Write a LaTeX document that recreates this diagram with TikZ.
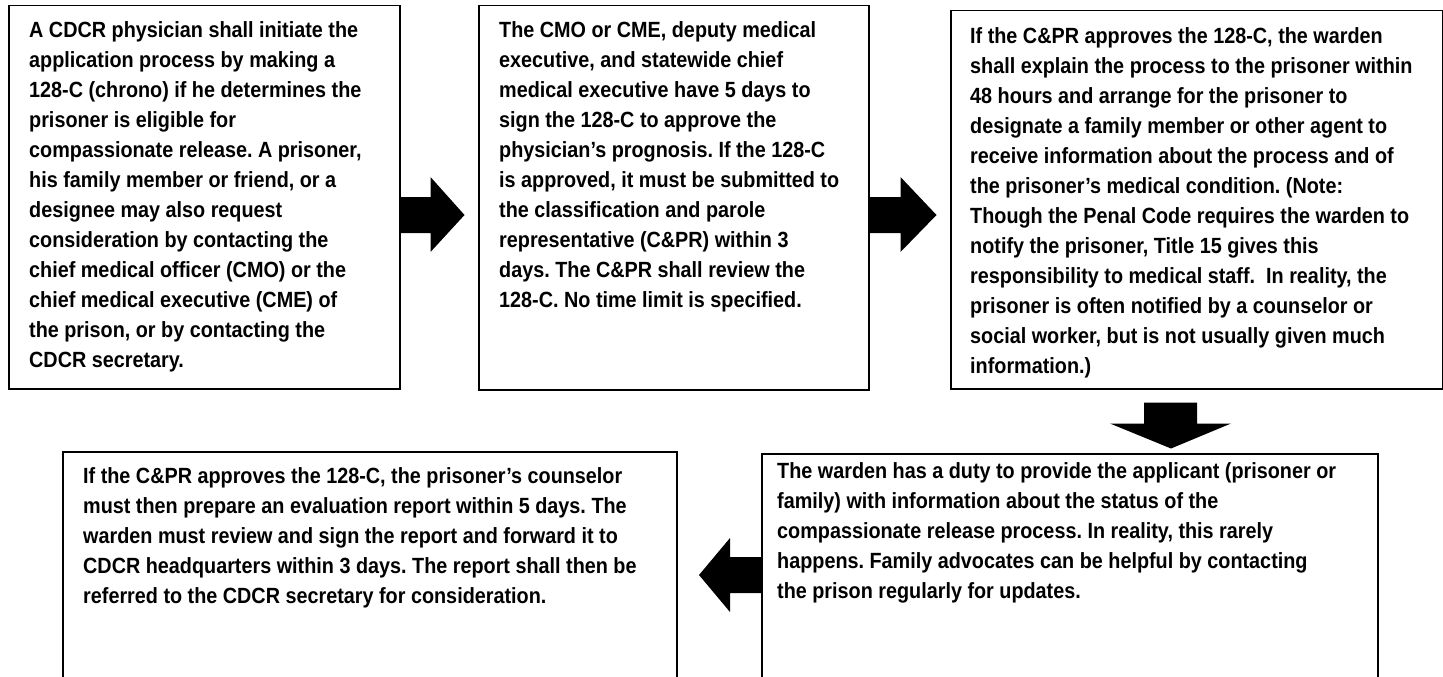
\documentclass[tikz,border=0pt]{standalone}
\usepackage{fontspec}
\setmainfont{Liberation Sans}[FakeStretch=0.9]
\usetikzlibrary{positioning}
\usetikzlibrary{calc}
\frenchspacing

\begin{document}
\begin{tikzpicture}[x=1pt,y=-1pt,
		box/.style={draw,line width=1.5pt,anchor=north west,inner sep=0pt},
		flowtext/.style={anchor=north west,align=left,inner sep=0pt,
			font=\fontsize{22}{30}\selectfont\bfseries},
		blockarrow/.style={fill=black}]
		\useasboundingbox[fill=white] (0,0) rectangle (1443,677);
		
		% the five steps
		\node[box, minimum width=391pt, minimum height=383pt] (Physician) at (8,5) {};
		\node[box, minimum width=390pt, minimum height=384pt] (Chief)     at (478,5) {};
		\node[box, minimum width=492pt, minimum height=378pt] (Warden)    at (950,10) {};
		\node[box, minimum width=614pt, minimum height=260pt] (Counselor) at (62,451) {};
		\node[box, minimum width=616pt, minimum height=260pt] (Status)    at (761,453) {};
		
		\node[flowtext] (PhysicianText) at ($(Physician.north west)+(21,16)$)
		{A CDCR physician shall initiate the\\
			application process by making a\\
			128-C (chrono) if he determines the\\
			prisoner is eligible for\\
			compassionate release. A prisoner,\\
			his family member or friend, or a\\
			designee may also request\\
			consideration by contacting the\\
			chief medical officer (CMO) or the\\
			chief medical executive (CME) of\\
			the prison, or by contacting the\\
			CDCR secretary.};
		\node[flowtext] (ChiefText) at ($(Chief.north west)+(21,16)$)
		{The CMO or CME, deputy medical\\
			executive, and statewide chief\\
			medical executive have 5 days to\\
			sign the 128-C to approve the\\
			physician’s prognosis. If the 128-C\\
			is approved, it must be submitted to\\
			the classification and parole\\
			representative (C\&PR) within 3\\
			days. The C\&PR shall review the\\
			128-C. No time limit is specified.};
		\node[flowtext] (WardenText) at ($(Warden.north west)+(20,17)$)
		{If the C\&PR approves the 128-C, the warden\\
			shall explain the process to the prisoner within\\
			48 hours and arrange for the prisoner to\\
			designate a family member or other agent to\\
			receive information about the process and of\\
			the prisoner’s medical condition. (Note:\\
			Though the Penal Code requires the warden to\\
			notify the prisoner, Title 15 gives this\\
			responsibility to medical staff.\ \ In reality, the\\
			prisoner is often notified by a counselor or\\
			social worker, but is not usually given much\\
			information.)};
		\node[flowtext] (CounselorText) at ($(Counselor.north west)+(21,16)$)
		{If the C\&PR approves the 128-C, the prisoner’s counselor\\
			must then prepare an evaluation report within 5 days. The\\
			warden must review and sign the report and forward it to\\
			CDCR headquarters within 3 days. The report shall then be\\
			referred to the CDCR secretary for consideration.};
		\node[flowtext] (StatusText) at ($(Status.north west)+(16,9)$)
		{The warden has a duty to provide the applicant (prisoner or\\
			family) with information about the status of the\\
			compassionate release process. In reality, this rarely\\
			happens. Family advocates can be helpful by contacting\\
			the prison regularly for updates.};
		
		% block arrows between the steps
		\coordinate (TopRow) at (0,215);
		\coordinate (BottomRow) at (0,575);
		\coordinate (DownCol) at (1171,0);
		
		\fill[blockarrow] (Physician.east |- TopRow) ++(0,-18) -- ++(30,0) -- ++(0,-20)
		-- ++(34,38) -- ++(-34,37) -- ++(0,-19) -- ++(-30,0) -- cycle;
		\fill[blockarrow] (Chief.east |- TopRow) ++(0,-18) -- ++(31,0) -- ++(0,-20)
		-- ++(36,38) -- ++(-36,37) -- ++(0,-19) -- ++(-31,0) -- cycle;
		\fill[blockarrow] (DownCol |- Warden.south) ++(-27,13) -- ++(53,0) -- ++(0,21)
		-- ++(34,0) -- ++(-60,25) -- ++(-61,-25) -- ++(34,0) -- cycle;
		\fill[blockarrow] (Status.west |- BottomRow) ++(0,-18) -- ++(-31,0) -- ++(0,-19)
		-- ++(-31,37) -- ++(31,37) -- ++(0,-19) -- ++(31,0) -- cycle;
		
\end{tikzpicture}
\end{document}
